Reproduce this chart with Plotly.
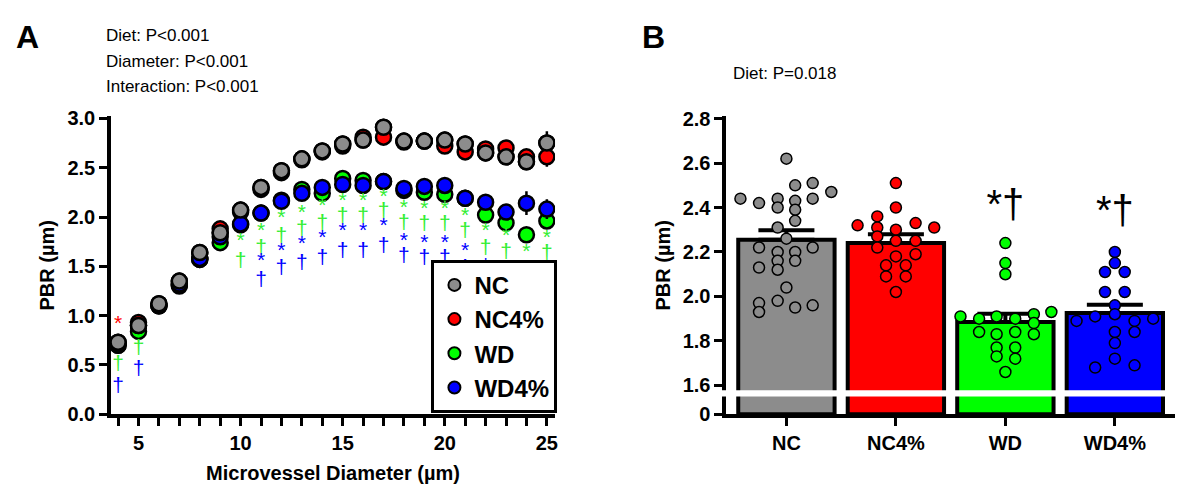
import plotly.graph_objects as go

# ---------- Panel A data ----------
diam = list(range(4, 26))
nc =    [0.73,0.90,1.12,1.35,1.64,1.84,2.07,2.30,2.47,2.59,2.67,2.74,2.78,2.91,2.77,2.77,2.78,2.74,2.65,2.61,2.56,2.75]
nc4 =   [0.70,0.93,1.10,1.30,1.57,1.88,2.05,2.28,2.45,2.58,2.66,2.72,2.81,2.81,2.76,2.77,2.72,2.66,2.69,2.70,2.61,2.61]
wd =    [0.70,0.84,1.10,1.31,1.57,1.74,1.92,2.04,2.17,2.28,2.24,2.39,2.37,2.36,2.27,2.25,2.23,2.19,2.02,1.94,1.82,1.96]
wd4 =   [0.72,0.90,1.10,1.32,1.58,1.80,1.93,2.04,2.16,2.24,2.30,2.33,2.32,2.36,2.29,2.31,2.32,2.19,2.15,2.05,2.14,2.08]
nc_se = [0.04,0.04,0.03,0.03,0.03,0.03,0.03,0.03,0.03,0.03,0.03,0.03,0.03,0.04,0.03,0.03,0.04,0.04,0.05,0.06,0.08,0.12]
nc4_se= [0.04,0.04,0.03,0.03,0.03,0.03,0.03,0.03,0.03,0.03,0.03,0.03,0.04,0.04,0.03,0.03,0.04,0.04,0.05,0.06,0.07,0.10]
wd_se = [0.04,0.04,0.03,0.03,0.03,0.03,0.03,0.03,0.03,0.03,0.03,0.03,0.03,0.03,0.03,0.03,0.03,0.04,0.05,0.05,0.06,0.07]
wd4_se= [0.04,0.04,0.03,0.03,0.03,0.03,0.03,0.03,0.03,0.03,0.03,0.03,0.03,0.03,0.03,0.03,0.04,0.04,0.06,0.06,0.12,0.10]

# significance marks (diameter, y, symbol)
red_x = [4]; red_y = [0.91]; red_t = ["*"]
green_x = [4,5] + [d for d in range(10,26) for _ in (0,1)]
green_y = [0.50,0.66,
           1.75,1.55, 1.85,1.68, 1.98,1.80, 2.03,1.87, 2.10,1.93, 2.15,2.00, 2.15,2.00, 2.20,2.05,
           2.08,1.93, 2.07,1.92, 2.07,1.92, 2.00,1.85, 1.85,1.68, 1.80,1.64, 1.64,1.46, 1.78,1.63]
green_t = ["†","†"] + ["*","†"]*16
blue_x = [4,5] + [d for d in range(11,26) if d != 24 for _ in (0,1)] + [24]
blue_y = [0.28,0.45,
          1.55,1.35, 1.65,1.48, 1.72,1.53, 1.78,1.58, 1.85,1.65, 1.85,1.65, 1.90,1.70,
          1.75,1.60, 1.73,1.58, 1.73,1.58, 1.65,1.48, 1.50,1.32, 1.43,1.27, 1.43,1.27, 1.27]
blue_t = ["†","†"] + ["*","†"]*14 + ["†"]

# ---------- Panel B data ----------
groups = ["NC","NC4%","WD","WD4%"]
means = [2.255, 2.24, 1.885, 1.925]
ses = [0.043, 0.04, 0.037, 0.038]
nc_off = [-0.42,-0.25,-0.08,-0.08,0.08,0.08,0.08,0,0.08,0.24,0.24,0.41,-0.08,0,-0.25,-0.08,0.08,0.24,-0.25,-0.08,0.08,-0.08,0,-0.25,-0.25,-0.08,0.08,0.24]
nc_pts = [2.44,2.42,2.44,2.40,2.43,2.39,2.34,2.62,2.50,2.51,2.44,2.47,2.31,2.26,2.22,2.20,2.20,2.22,2.13,2.16,2.16,2.12,2.04,1.97,1.93,1.98,1.95,1.96]
nc4_off = [0,-0.35,-0.17,0,-0.17,0,0.18,0.35,-0.17,0,0.18,-0.17,0,0.18,-0.09,0.09,-0.09,0.09,0]
nc4_pts = [2.51,2.32,2.36,2.40,2.31,2.30,2.33,2.31,2.27,2.25,2.25,2.22,2.18,2.19,2.14,2.14,2.09,2.09,2.02]
wd_off = [0,0,0,-0.41,-0.24,-0.08,0.09,0.26,0.42,0.26,-0.24,-0.08,0.09,0.26,-0.08,0.09,-0.08,0.09,0]
wd_pts = [2.24,2.15,2.10,1.91,1.90,1.91,1.90,1.92,1.93,1.88,1.84,1.83,1.84,1.83,1.77,1.77,1.73,1.72,1.66]
wd4_off = [0,-0.09,0,0.09,-0.09,0.09,0,0,-0.35,-0.18,0.18,0.35,0.18,0,0,0,-0.18,0.18]
wd4_pts = [2.20,2.11,2.15,2.11,2.02,2.02,1.96,1.92,1.89,1.91,1.89,1.90,1.84,1.84,1.79,1.72,1.68,1.69]

colors = ["#8c8c8c", "#ff0000", "#00ff00", "#0000ff"]
FONT = "Liberation Sans, Arial, sans-serif"

fig = go.Figure()
for name, ys, se, c in zip(groups, [nc, nc4, wd, wd4], [nc_se, nc4_se, wd_se, wd4_se], colors):
    fig.add_trace(go.Scatter(x=diam, y=ys, mode="markers", name=name,
        error_y=dict(type="data", array=se, color="black", thickness=2.5, width=0),
        marker=dict(color=c, size=15, line=dict(color="black", width=2.5)),
        xaxis="x", yaxis="y"))
fig.add_trace(go.Scatter(x=diam, y=nc, mode="markers", showlegend=False,
    marker=dict(color=colors[0], size=15, line=dict(color="black", width=2.5)), xaxis="x", yaxis="y"))
for xs, ys, ts, c in [(red_x, red_y, red_t, "#ff0000"), (green_x, green_y, green_t, "#33ee33"), (blue_x, blue_y, blue_t, "#0000ff")]:
    fig.add_trace(go.Scatter(x=xs, y=ys, text=ts, mode="text", showlegend=False,
        textfont=dict(color=c, size=21, family=FONT), xaxis="x", yaxis="y"))

# Panel B
fig.add_trace(go.Bar(x=list(range(4)), y=[m - 1.47 for m in means], base=1.47, width=0.88,
    marker=dict(color=colors, line=dict(color="black", width=4)), showlegend=False,
    xaxis="x2", yaxis="y2"))
fig.add_trace(go.Scatter(x=list(range(4)), y=means, mode="markers", showlegend=False,
    marker=dict(size=1, color="black"),
    error_y=dict(type="data", symmetric=False, array=ses, arrayminus=[0]*4, color="black", thickness=4, width=28),
    xaxis="x2", yaxis="y2"))
for i, (offs, pts) in enumerate([(nc_off, nc_pts), (nc4_off, nc4_pts), (wd_off, wd_pts), (wd4_off, wd4_pts)]):
    fig.add_trace(go.Scatter(x=[i + o for o in offs], y=pts, mode="markers", showlegend=False,
        marker=dict(color=colors[i], size=11, line=dict(color="black", width=1.5)),
        xaxis="x2", yaxis="y2"))
fig.add_trace(go.Scatter(x=[2, 3], y=[2.40, 2.37], text=["*†", "*†"], mode="text", showlegend=False,
    textfont=dict(size=40, color="black", family=FONT), xaxis="x2", yaxis="y2"))

ax_common = dict(showline=True, linewidth=3.5, linecolor="black", ticks="outside", ticklen=8,
                 tickwidth=3, tickcolor="black", showgrid=False, zeroline=False)
TF = dict(family=FONT, size=20, color="black", weight="bold")
fig.update_layout(
    width=1200, height=498, plot_bgcolor="white", paper_bgcolor="white",
    margin=dict(l=0, r=0, t=0, b=0),
    font=dict(family=FONT, color="black"),
    xaxis=dict(domain=[0.086, 0.457], range=[3.65, 25.4], tickvals=[5, 10, 15, 20, 25],
               minor=dict(dtick=1, tick0=0, ticks="outside", ticklen=8, tickwidth=3, tickcolor="black"),
               title=dict(text="<b>Microvessel Diameter (µm)</b>", font=dict(size=20), standoff=14),
               tickfont=TF, **ax_common),
    yaxis=dict(domain=[0.169, 0.792], range=[0, 3.02], tickvals=[0, 0.5, 1, 1.5, 2, 2.5, 3],
               tickformat=".1f", tickfont=TF,
               title=dict(text="<b>PBR (µm)</b>", font=dict(size=20), standoff=8), **ax_common),
    xaxis2=dict(domain=[0.6, 0.975], range=[-0.55, 3.55], tickvals=[0, 1, 2, 3],
                ticktext=["NC", "NC4%", "WD", "WD4%"], anchor="y2", tickfont=TF, **ax_common),
    yaxis2=dict(domain=[0.169, 0.792], range=[1.47, 2.81],
                tickvals=[1.47, 1.6, 1.8, 2.0, 2.2, 2.4, 2.6, 2.8],
                ticktext=["0", "1.6", "1.8", "2.0", "2.2", "2.4", "2.6", "2.8"], anchor="x2", tickfont=TF,
                title=dict(text="<b>PBR (µm)</b>", font=dict(size=20), standoff=8), **ax_common),
    legend=dict(x=0.459, y=0.172, xanchor="right", yanchor="bottom", bordercolor="black", borderwidth=3,
                bgcolor="white", font=dict(size=24, family=FONT, weight="bold"), itemsizing="constant",
                tracegroupgap=0, itemwidth=30),
)

# axis break band in panel B
fig.add_shape(type="rect", xref="x2 domain", yref="y2", x0=-0.04, x1=1.0, y0=1.55, y1=1.578,
              fillcolor="white", line=dict(width=0), layer="above")

anns = [
    dict(x=0.005, y=1.0, text="<b>A</b>", size=32),
    dict(x=0.528, y=1.0, text="<b>B</b>", size=32),
    dict(x=0.08, y=0.985, text="Diet: P<0.001", size=17),
    dict(x=0.08, y=0.932, text="Diameter: P<0.001", size=17),
    dict(x=0.08, y=0.879, text="Interaction: P<0.001", size=17),
    dict(x=0.604, y=0.905, text="Diet: P=0.018", size=17),
]
for a in anns:
    fig.add_annotation(x=a["x"], y=a["y"], xref="paper", yref="paper", text=a["text"], showarrow=False,
                       xanchor="left", yanchor="top", font=dict(size=a["size"], family=FONT, color="black"))

fig.write_html("out.html")
